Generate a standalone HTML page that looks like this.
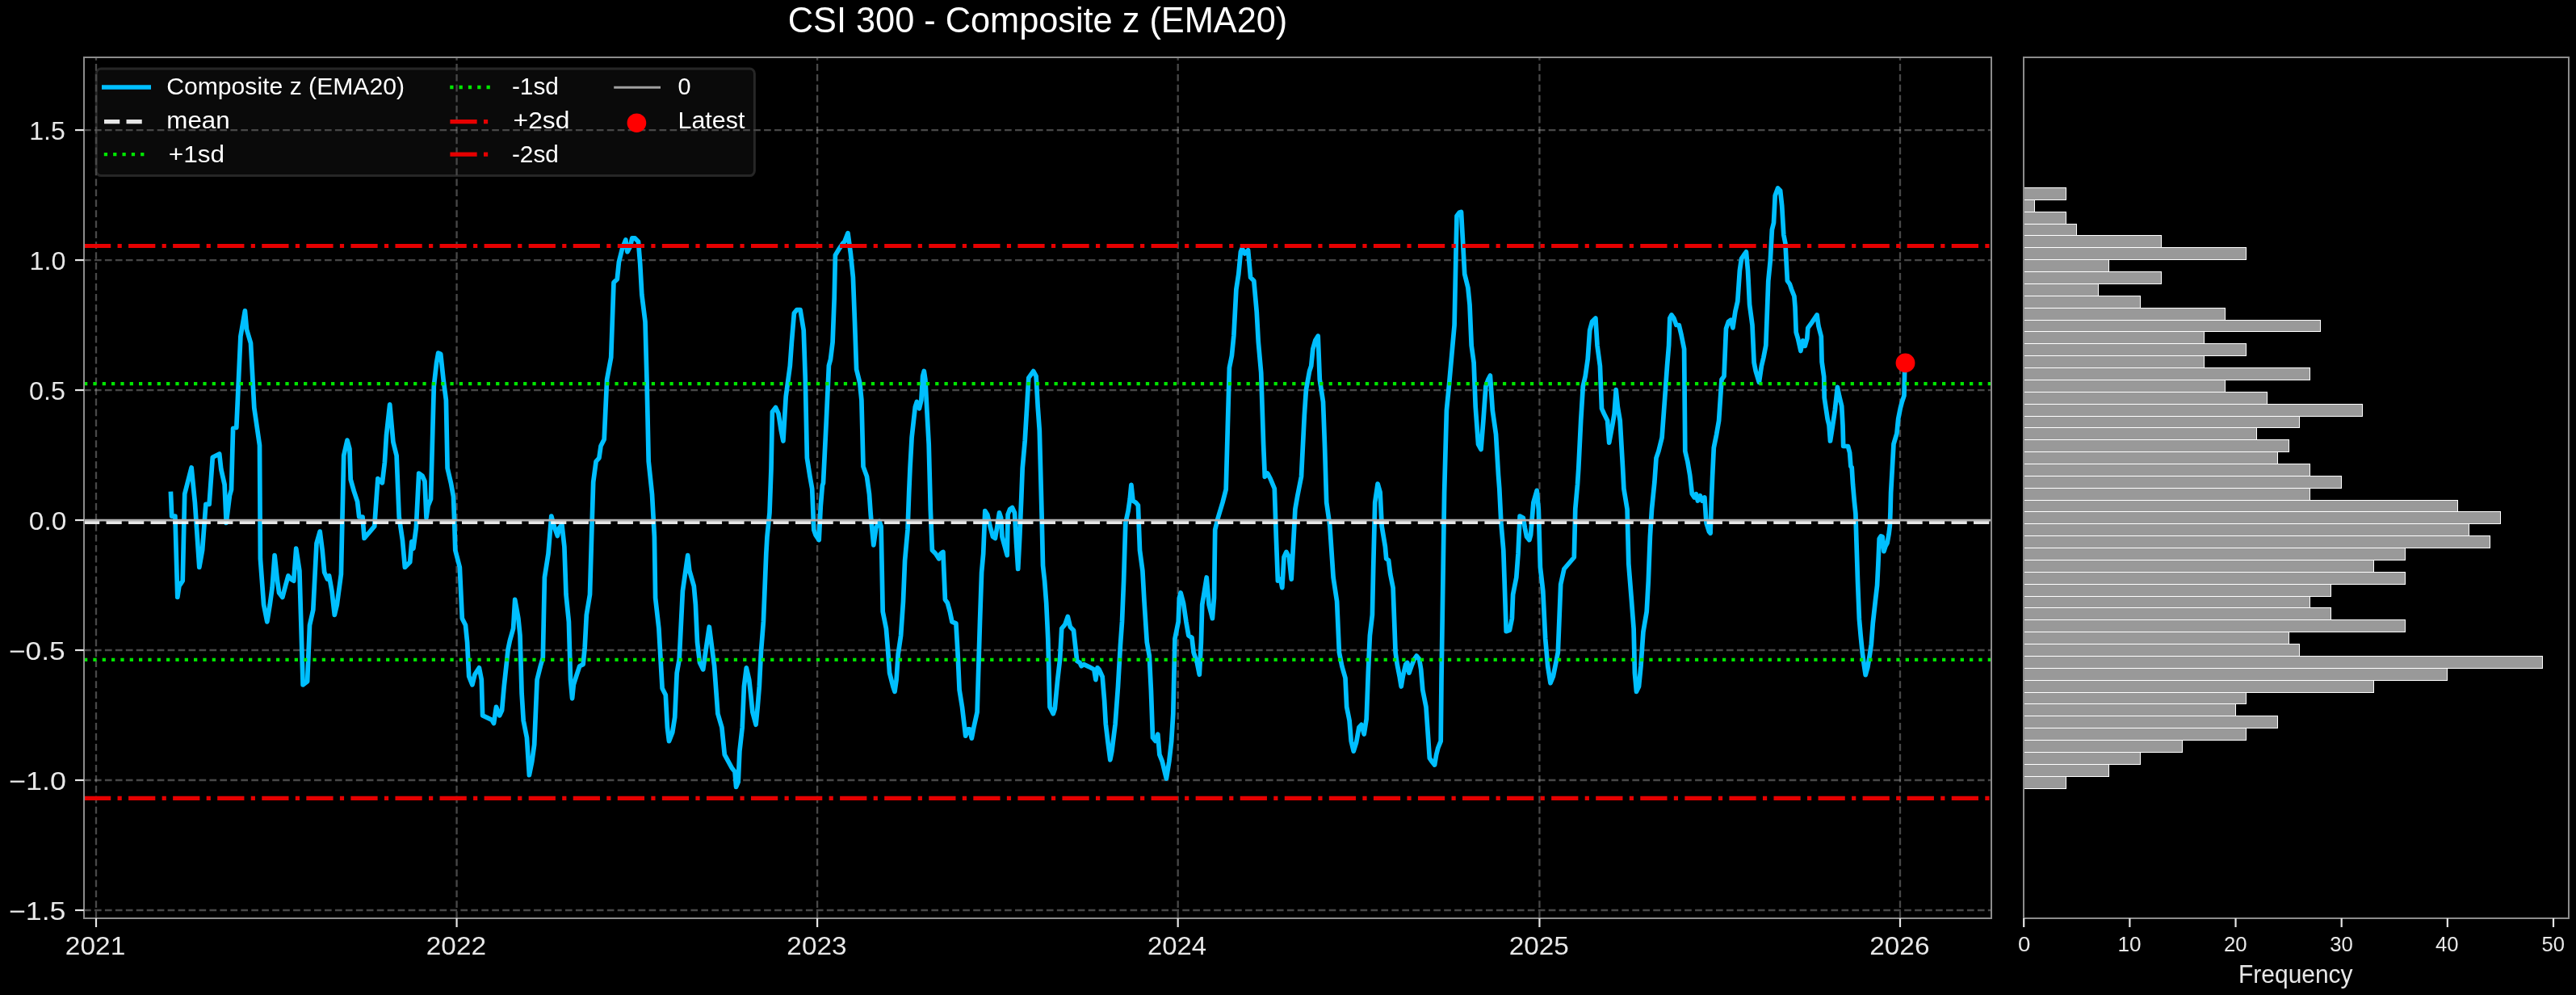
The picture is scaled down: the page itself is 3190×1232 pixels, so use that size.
<!DOCTYPE html><html><head><meta charset="utf-8"><style>html,body{margin:0;padding:0;background:#000;width:3190px;height:1232px;overflow:hidden}svg{display:block}text{font-family:"Liberation Sans",sans-serif}</style></head><body><svg style="will-change:transform" width="3190" height="1232" viewBox="0 0 3190 1232"><rect width="3190" height="1232" fill="#000"/><defs><clipPath id="cm"><rect x="104.0" y="71.0" width="2362.0" height="1066.0"/></clipPath></defs><g stroke="#b3b3b3" stroke-opacity="0.4" stroke-width="2.3" stroke-dasharray="8.7 4.255" fill="none"><line x1="119.00" y1="1137.0" x2="119.00" y2="71.0"/><line x1="565.56" y1="1137.0" x2="565.56" y2="71.0"/><line x1="1012.11" y1="1137.0" x2="1012.11" y2="71.0"/><line x1="1458.67" y1="1137.0" x2="1458.67" y2="71.0"/><line x1="1906.45" y1="1137.0" x2="1906.45" y2="71.0"/><line x1="2353.00" y1="1137.0" x2="2353.00" y2="71.0"/><line x1="104.0" y1="1127.00" x2="2466.0" y2="1127.00"/><line x1="104.0" y1="966.01" x2="2466.0" y2="966.01"/><line x1="104.0" y1="805.02" x2="2466.0" y2="805.02"/><line x1="104.0" y1="644.03" x2="2466.0" y2="644.03"/><line x1="104.0" y1="483.04" x2="2466.0" y2="483.04"/><line x1="104.0" y1="322.05" x2="2466.0" y2="322.05"/><line x1="104.0" y1="161.06" x2="2466.0" y2="161.06"/></g><g clip-path="url(#cm)"><path d="M211.4 608.7 L212.7 639.1 L216.9 639.1 L219.8 739.5 L221.9 725.6 L226.2 719.2 L228.7 611.6 L237.1 578.9 L241.4 622.2 L246.8 702.4 L250.6 681.3 L254.9 624.3 L259.1 624.3 L263.3 566.2 L271.7 562.0 L273.8 581.0 L278.1 600.0 L280.2 647.5 L284.4 613.8 L286.5 606.3 L288.6 530.3 L292.8 529.5 L297.9 416.4 L303.4 384.8 L305.5 408.0 L310.5 424.9 L314.8 505.0 L321.5 551.4 L322.4 691.8 L326.6 748.8 L330.8 769.9 L334.2 748.8 L337.1 727.7 L340.1 687.6 L343.5 719.2 L345.6 734.0 L349.8 739.5 L354.0 723.5 L357.0 712.9 L360.3 717.1 L363.7 719.2 L366.7 679.2 L370.9 706.6 L375.1 847.9 L380.6 843.7 L383.5 774.1 L387.8 755.1 L392.0 672.8 L396.2 658.1 L399.2 681.3 L401.7 708.7 L405.5 717.1 L407.6 712.9 L411.0 731.9 L414.3 761.4 L417.3 748.8 L422.4 710.8 L425.7 564.1 L430.0 545.1 L432.9 555.7 L434.2 593.6 L438.4 608.4 L442.6 621.1 L444.7 640.0 L449.0 640.0 L451.1 666.5 L463.7 651.7 L467.9 592.7 L473.4 597.8 L476.4 572.5 L478.5 538.8 L482.7 500.8 L486.9 547.2 L491.1 564.1 L494.2 640.0 L498.4 668.6 L501.4 702.4 L504.8 699.0 L507.7 696.0 L509.8 670.7 L511.9 679.2 L515.3 653.8 L518.7 586.0 L522.9 589.0 L526.0 596.0 L528.0 641.2 L530.1 626.4 L533.5 618.0 L537.3 478.5 L540.6 448.9 L542.7 437.1 L545.7 438.4 L549.1 470.0 L552.4 495.4 L554.1 579.7 L558.4 598.0 L561.5 615.0 L562.6 643.3 L563.8 681.3 L569.3 702.4 L572.3 765.7 L576.5 774.1 L578.6 795.2 L580.7 837.4 L584.9 847.9 L587.9 835.3 L593.4 826.8 L596.3 841.6 L597.6 885.9 L603.9 888.9 L609.0 891.4 L611.5 895.6 L614.5 875.4 L618.7 885.9 L621.6 879.6 L624.2 850.0 L629.2 803.6 L631.4 793.1 L635.6 778.3 L637.7 742.4 L641.9 765.7 L644.0 786.8 L646.1 858.5 L648.2 892.2 L652.4 913.3 L655.4 959.7 L658.8 942.9 L661.7 921.8 L665.1 841.6 L669.3 824.7 L672.3 814.2 L674.4 715.0 L679.0 685.5 L682.8 639.1 L686.2 651.7 L690.4 663.5 L692.5 653.8 L695.9 649.6 L698.9 677.0 L701.0 736.1 L704.4 769.9 L706.5 841.6 L708.6 864.8 L710.3 847.9 L713.6 837.4 L717.8 824.7 L722.1 822.6 L724.2 801.5 L726.3 761.4 L730.5 736.1 L732.6 664.4 L734.7 596.9 L738.1 571.3 L741.9 567.1 L744.0 552.3 L748.2 543.9 L751.6 470.0 L756.7 442.6 L760.0 349.8 L764.3 345.6 L766.4 324.5 L770.6 307.6 L774.8 297.0 L776.9 311.8 L780.3 305.5 L782.8 294.9 L786.3 294.9 L790.5 299.2 L792.7 326.6 L794.8 364.6 L799.0 398.3 L801.1 474.3 L803.2 571.3 L807.5 612.0 L810.4 664.4 L811.6 740.3 L815.9 778.3 L820.1 852.2 L824.3 860.6 L826.4 900.7 L828.5 917.6 L832.7 907.0 L835.7 888.0 L838.2 833.2 L841.2 816.3 L845.4 731.9 L849.6 702.4 L851.7 687.6 L853.8 706.6 L859.3 725.6 L861.4 748.8 L863.5 795.2 L866.5 820.5 L870.7 828.9 L874.9 799.4 L878.3 776.2 L881.3 799.4 L884.6 824.7 L888.9 883.8 L893.9 900.7 L897.3 934.4 L906.6 951.3 L910.0 955.5 L911.6 974.5 L914.2 968.2 L915.9 930.2 L919.2 900.7 L921.4 850.0 L924.3 826.8 L927.7 841.6 L929.8 860.6 L931.9 881.7 L936.1 897.3 L938.2 875.4 L940.3 850.0 L942.4 807.8 L945.4 769.9 L948.8 685.5 L950.0 664.4 L953.0 635.0 L955.0 580.0 L956.4 510.1 L960.6 504.6 L964.0 512.2 L967.3 533.3 L969.9 546.0 L973.2 491.1 L978.3 453.2 L980.4 423.6 L983.4 387.8 L986.8 383.5 L991.0 383.5 L995.2 408.9 L997.3 470.0 L999.4 567.1 L1003.0 590.0 L1005.7 605.3 L1007.8 656.0 L1010.0 662.3 L1014.2 668.6 L1016.3 626.4 L1018.4 601.1 L1019.5 598.0 L1023.3 521.0 L1026.4 452.8 L1028.5 445.0 L1031.1 423.6 L1033.2 368.8 L1034.4 316.0 L1039.5 307.6 L1043.7 301.3 L1045.8 299.2 L1050.0 288.6 L1053.4 313.9 L1056.4 343.5 L1058.5 398.3 L1060.6 457.4 L1064.8 474.3 L1066.9 495.4 L1069.0 577.6 L1073.5 590.0 L1076.5 612.0 L1078.4 639.1 L1081.8 674.9 L1084.8 653.8 L1086.9 649.6 L1089.0 645.4 L1091.1 651.7 L1093.2 757.2 L1097.4 778.3 L1099.5 803.6 L1101.6 833.2 L1105.9 850.0 L1108.0 856.4 L1110.1 841.6 L1112.2 810.0 L1115.6 786.8 L1118.5 744.6 L1120.6 693.9 L1124.0 655.9 L1125.7 609.5 L1127.0 579.7 L1129.1 541.8 L1133.3 503.8 L1135.4 497.5 L1138.4 505.9 L1140.9 495.4 L1142.6 465.8 L1144.3 459.5 L1145.9 470.0 L1148.1 512.2 L1150.2 550.2 L1151.5 600.0 L1152.3 630.6 L1154.4 681.3 L1158.6 685.5 L1162.8 691.8 L1164.9 685.5 L1167.9 683.4 L1170.4 742.4 L1173.4 746.7 L1176.3 757.2 L1178.9 769.9 L1183.9 772.0 L1186.0 807.8 L1188.1 854.3 L1191.5 875.4 L1195.7 911.2 L1198.7 902.8 L1200.8 902.8 L1203.3 914.2 L1205.9 900.7 L1210.1 881.7 L1213.5 769.9 L1215.6 708.7 L1217.7 685.5 L1219.8 632.7 L1222.7 637.0 L1226.1 651.7 L1229.5 664.4 L1232.4 666.5 L1234.6 653.8 L1237.5 634.9 L1239.6 641.2 L1240.9 664.4 L1243.8 674.9 L1247.2 687.6 L1248.1 637.0 L1250.6 630.6 L1253.5 628.5 L1256.5 634.9 L1258.6 672.8 L1260.7 704.5 L1262.8 664.4 L1264.9 613.8 L1266.2 579.7 L1269.2 546.0 L1271.7 503.8 L1273.8 467.9 L1276.8 463.7 L1279.7 459.5 L1283.1 465.8 L1285.2 503.8 L1287.3 533.3 L1288.8 590.0 L1290.0 634.9 L1291.5 700.3 L1293.6 719.2 L1295.7 746.7 L1297.8 791.0 L1300.0 875.4 L1302.1 879.6 L1304.2 883.8 L1306.3 877.5 L1309.7 841.6 L1312.6 816.3 L1314.7 778.3 L1318.9 773.2 L1322.3 763.5 L1325.3 776.2 L1329.5 780.4 L1331.6 799.4 L1333.7 818.4 L1337.1 820.5 L1339.2 824.7 L1342.2 822.6 L1348.5 825.6 L1354.8 828.9 L1356.9 841.6 L1359.0 826.8 L1361.1 828.9 L1365.2 838.0 L1367.6 866.9 L1369.3 896.5 L1371.8 917.6 L1374.8 940.8 L1376.9 930.2 L1381.1 896.5 L1384.5 850.0 L1387.4 799.4 L1389.5 769.9 L1391.6 719.2 L1393.8 647.5 L1397.1 632.7 L1399.2 618.0 L1400.9 600.3 L1403.0 620.1 L1406.4 622.2 L1409.4 625.6 L1411.5 681.3 L1414.9 706.6 L1417.0 744.6 L1420.3 795.2 L1423.3 812.1 L1425.4 854.3 L1427.5 913.3 L1430.9 917.6 L1433.8 909.1 L1435.9 934.4 L1439.3 942.9 L1442.3 955.5 L1444.4 964.0 L1447.8 942.9 L1450.7 917.6 L1452.8 883.8 L1454.9 791.0 L1459.2 769.9 L1460.4 740.3 L1462.1 734.0 L1465.5 746.7 L1468.9 769.9 L1471.8 786.8 L1476.0 789.7 L1478.1 807.8 L1482.4 820.5 L1485.3 835.3 L1487.4 795.2 L1488.7 748.8 L1490.8 736.1 L1494.2 715.0 L1497.1 748.8 L1501.4 765.7 L1503.5 740.3 L1504.7 655.9 L1507.7 643.3 L1514.0 622.2 L1518.2 606.0 L1520.3 529.1 L1522.4 455.3 L1525.4 440.5 L1527.9 415.2 L1530.9 358.2 L1533.8 339.2 L1536.4 311.8 L1538.1 307.6 L1541.4 313.9 L1545.6 309.7 L1548.6 343.5 L1552.8 347.7 L1556.2 385.7 L1558.3 423.6 L1561.7 461.6 L1564.6 550.2 L1566.3 590.3 L1569.7 586.1 L1573.1 592.5 L1578.3 605.0 L1580.3 664.4 L1582.4 719.2 L1585.7 717.1 L1587.8 727.7 L1590.0 689.7 L1592.9 683.4 L1596.3 689.7 L1599.2 717.1 L1601.4 677.0 L1603.9 630.6 L1606.8 613.8 L1611.5 590.0 L1615.3 514.3 L1617.4 482.7 L1621.6 459.5 L1623.7 453.2 L1625.8 432.1 L1628.8 421.5 L1632.2 416.0 L1634.3 470.0 L1638.5 497.5 L1640.6 554.4 L1642.0 600.0 L1642.7 622.2 L1646.9 651.7 L1651.1 715.0 L1655.6 744.6 L1658.4 807.8 L1661.8 824.7 L1666.0 839.5 L1667.7 875.4 L1671.1 892.2 L1673.2 917.6 L1676.2 930.2 L1679.5 919.7 L1682.9 900.7 L1685.9 897.3 L1689.2 909.1 L1692.2 890.1 L1694.3 833.2 L1696.4 786.8 L1699.4 761.4 L1700.6 706.6 L1702.7 622.2 L1706.1 599.0 L1709.1 609.5 L1711.2 651.7 L1715.4 677.0 L1716.7 691.8 L1719.6 693.9 L1721.7 710.8 L1725.1 727.7 L1728.1 807.8 L1730.2 822.6 L1733.1 837.4 L1735.2 850.0 L1737.3 837.4 L1740.7 822.6 L1742.8 820.5 L1744.9 833.2 L1747.9 824.7 L1751.3 816.3 L1754.2 812.1 L1757.6 816.3 L1759.7 828.9 L1761.8 854.3 L1766.0 875.4 L1770.3 938.6 L1773.2 942.9 L1776.6 947.1 L1778.7 934.4 L1780.8 926.0 L1784.2 917.6 L1785.0 841.6 L1787.1 706.6 L1788.6 610.0 L1791.4 508.0 L1794.3 478.5 L1797.7 440.5 L1801.1 402.5 L1802.7 326.6 L1804.0 267.5 L1807.0 263.3 L1809.5 262.4 L1811.2 292.8 L1813.7 339.2 L1817.9 356.1 L1820.0 377.2 L1822.2 427.8 L1825.1 448.9 L1827.2 503.8 L1830.6 550.2 L1834.0 556.5 L1836.9 520.7 L1839.9 478.5 L1842.8 470.0 L1845.4 465.0 L1848.3 508.0 L1852.5 537.6 L1855.5 588.2 L1856.8 605.3 L1858.9 647.5 L1861.8 681.3 L1865.2 781.7 L1869.4 780.4 L1872.4 765.7 L1873.6 736.1 L1877.8 715.0 L1880.0 685.5 L1882.1 639.1 L1886.3 641.2 L1888.4 653.8 L1890.5 664.4 L1893.9 668.6 L1895.6 662.3 L1898.9 622.2 L1903.2 607.3 L1905.3 630.6 L1907.4 702.4 L1910.8 731.9 L1913.7 791.0 L1916.7 824.7 L1920.0 845.8 L1923.4 837.4 L1926.4 822.6 L1929.3 807.8 L1932.7 723.5 L1936.9 704.5 L1949.3 690.0 L1950.8 630.0 L1953.5 600.0 L1954.8 579.7 L1957.7 520.7 L1960.3 478.5 L1963.2 465.8 L1966.2 444.7 L1968.7 408.9 L1971.6 398.3 L1975.9 394.1 L1978.0 427.8 L1981.4 453.2 L1983.5 505.9 L1986.4 512.2 L1990.6 520.7 L1992.7 548.1 L1997.0 524.9 L1999.1 512.2 L2001.2 482.7 L2003.3 503.8 L2006.2 520.7 L2009.6 579.7 L2010.9 605.3 L2015.1 630.6 L2016.8 698.1 L2020.2 740.3 L2023.1 778.3 L2024.4 833.2 L2026.5 856.4 L2029.5 850.0 L2032.0 824.7 L2034.9 782.5 L2039.2 757.2 L2041.3 719.2 L2043.4 664.4 L2045.5 630.6 L2048.9 596.9 L2051.0 567.1 L2053.9 558.6 L2058.1 541.8 L2061.5 495.4 L2064.5 453.2 L2066.6 427.8 L2067.8 394.1 L2069.9 389.9 L2072.9 394.1 L2075.9 402.5 L2079.2 402.5 L2082.2 415.2 L2085.6 432.1 L2086.8 558.6 L2089.8 571.3 L2092.7 588.2 L2095.3 611.4 L2098.2 615.9 L2100.3 611.6 L2102.4 620.1 L2105.4 613.8 L2107.9 620.1 L2110.9 615.9 L2113.0 647.5 L2116.4 658.1 L2118.1 660.2 L2119.3 622.2 L2120.6 590.0 L2122.3 554.4 L2125.7 537.6 L2128.6 520.7 L2132.0 470.0 L2135.0 465.8 L2137.5 406.8 L2140.4 398.3 L2143.4 396.2 L2145.9 405.9 L2148.9 385.7 L2151.8 373.0 L2154.4 335.0 L2156.5 320.3 L2159.4 316.0 L2162.4 311.8 L2164.5 335.0 L2166.6 377.2 L2170.0 402.5 L2172.1 448.9 L2174.2 459.5 L2178.4 473.4 L2181.4 453.2 L2183.9 442.6 L2186.8 427.8 L2189.8 347.7 L2192.3 322.4 L2194.4 284.4 L2196.5 275.9 L2198.2 242.2 L2201.6 232.9 L2204.6 235.9 L2206.7 254.9 L2208.8 290.7 L2210.9 301.3 L2213.4 347.7 L2216.4 351.9 L2218.5 358.2 L2221.9 366.7 L2223.0 380.0 L2224.2 411.4 L2226.5 419.2 L2229.9 434.5 L2232.5 421.8 L2235.2 428.4 L2237.8 419.2 L2238.8 406.1 L2243.5 399.6 L2250.1 389.9 L2251.9 403.5 L2255.3 416.6 L2256.1 448.0 L2258.7 466.3 L2259.2 492.4 L2263.1 518.6 L2265.0 526.4 L2266.5 546.0 L2269.2 529.0 L2272.3 508.1 L2275.4 479.3 L2277.5 489.8 L2280.7 502.9 L2282.0 526.4 L2282.7 552.5 L2288.5 552.5 L2290.6 560.4 L2291.9 577.4 L2293.2 578.7 L2294.5 599.6 L2296.3 620.5 L2297.9 636.0 L2299.0 672.3 L2300.5 719.3 L2302.4 766.4 L2304.2 787.3 L2306.3 808.2 L2308.4 823.9 L2310.2 835.7 L2312.8 826.5 L2315.4 810.8 L2317.3 797.8 L2319.3 771.6 L2322.5 742.9 L2324.6 724.6 L2325.9 698.4 L2327.2 667.1 L2329.3 663.9 L2331.1 664.4 L2332.9 682.7 L2335.0 676.2 L2337.1 672.3 L2339.0 661.8 L2340.3 651.4 L2341.0 633.1 L2341.6 610.1 L2343.4 578.7 L2345.0 549.9 L2347.3 542.1 L2348.9 536.9 L2349.9 526.4 L2350.7 518.6 L2353.3 505.5 L2355.4 497.6 L2358.0 489.8 L2358.6 461.0 L2359.3 449.3" fill="none" stroke="#00bfff" stroke-width="5.7" stroke-linejoin="round" stroke-linecap="butt"/><line x1="104.0" y1="646.4" x2="2466.0" y2="646.4" stroke="#ffffff" stroke-opacity="0.9" stroke-width="5.195" stroke-dasharray="19.22 8.31"/><line x1="104.0" y1="475.1" x2="2466.0" y2="475.1" stroke="#00e600" stroke-width="4.277" stroke-dasharray="4.277 7.058"/><line x1="104.0" y1="816.9" x2="2466.0" y2="816.9" stroke="#00e600" stroke-width="4.277" stroke-dasharray="4.277 7.058"/><line x1="104.0" y1="304.5" x2="2466.0" y2="304.5" stroke="#e60000" stroke-width="5.195" stroke-dasharray="33.25 8.31 5.195 8.31"/><line x1="104.0" y1="988.4" x2="2466.0" y2="988.4" stroke="#e60000" stroke-width="5.195" stroke-dasharray="33.25 8.31 5.195 8.31"/><line x1="104.0" y1="644.1" x2="2466.0" y2="644.1" stroke="#b0b0b0" stroke-width="2.8"/><circle cx="2359.5" cy="449.4" r="11.9" fill="#ff0000"/></g><rect x="104.0" y="71.0" width="2362.0" height="1066.0" fill="none" stroke="#8c8c8c" stroke-width="2.0"/><g stroke="#e6e6e6" stroke-width="2.2"><line x1="93.0" y1="1127.00" x2="104.0" y2="1127.00"/><line x1="93.0" y1="966.01" x2="104.0" y2="966.01"/><line x1="93.0" y1="805.02" x2="104.0" y2="805.02"/><line x1="93.0" y1="644.03" x2="104.0" y2="644.03"/><line x1="93.0" y1="483.04" x2="104.0" y2="483.04"/><line x1="93.0" y1="322.05" x2="104.0" y2="322.05"/><line x1="93.0" y1="161.06" x2="104.0" y2="161.06"/><line x1="119.00" y1="1137.0" x2="119.00" y2="1148.0"/><line x1="565.56" y1="1137.0" x2="565.56" y2="1148.0"/><line x1="1012.11" y1="1137.0" x2="1012.11" y2="1148.0"/><line x1="1458.67" y1="1137.0" x2="1458.67" y2="1148.0"/><line x1="1906.45" y1="1137.0" x2="1906.45" y2="1148.0"/><line x1="2353.00" y1="1137.0" x2="2353.00" y2="1148.0"/></g><rect x="119.2" y="85.0" width="815.1999999999999" height="132.6" rx="6" ry="6" fill="#474747" fill-opacity="0.14" stroke="#474747" stroke-opacity="0.5" stroke-width="3"/><line x1="126.0" y1="108.0" x2="187.0" y2="108.0" stroke="#00bfff" stroke-width="5.7"/><line x1="129.0" y1="150.6" x2="183.4" y2="150.6" stroke="#e6e6e6" stroke-width="5.195" stroke-dasharray="19.22 8.31"/><line x1="128.8" y1="191.2" x2="184.4" y2="191.2" stroke="#00e600" stroke-width="4.277" stroke-dasharray="4.277 7.058"/><line x1="557.2" y1="108.0" x2="612.8" y2="108.0" stroke="#00e600" stroke-width="4.277" stroke-dasharray="4.277 7.058"/><line x1="557.4" y1="150.6" x2="612.2" y2="150.6" stroke="#e60000" stroke-width="5.195" stroke-dasharray="33.25 8.31 5.195 8.31"/><line x1="557.4" y1="191.2" x2="612.2" y2="191.2" stroke="#e60000" stroke-width="5.195" stroke-dasharray="33.25 8.31 5.195 8.31"/><line x1="760.2" y1="108.3" x2="818.0" y2="108.3" stroke="#a0a0a0" stroke-width="2.9"/><circle cx="788.4" cy="152.2" r="11.8" fill="#ff0000"/><g fill="#999999" stroke="#ffffff" stroke-width="1.0"><rect x="2506.5" y="232.5" width="52.0" height="15.0"/><rect x="2506.5" y="247.5" width="13.0" height="15.0"/><rect x="2506.5" y="262.5" width="52.0" height="15.0"/><rect x="2506.5" y="277.5" width="65.0" height="14.0"/><rect x="2506.5" y="291.5" width="170.0" height="15.0"/><rect x="2506.5" y="306.5" width="275.0" height="15.0"/><rect x="2506.5" y="321.5" width="105.0" height="15.0"/><rect x="2506.5" y="336.5" width="170.0" height="15.0"/><rect x="2506.5" y="351.5" width="92.0" height="15.0"/><rect x="2506.5" y="366.5" width="144.0" height="15.0"/><rect x="2506.5" y="381.5" width="249.0" height="15.0"/><rect x="2506.5" y="396.5" width="367.0" height="14.0"/><rect x="2506.5" y="410.5" width="223.0" height="15.0"/><rect x="2506.5" y="425.5" width="275.0" height="15.0"/><rect x="2506.5" y="440.5" width="223.0" height="15.0"/><rect x="2506.5" y="455.5" width="354.0" height="15.0"/><rect x="2506.5" y="470.5" width="249.0" height="15.0"/><rect x="2506.5" y="485.5" width="301.0" height="15.0"/><rect x="2506.5" y="500.5" width="419.0" height="15.0"/><rect x="2506.5" y="515.5" width="341.0" height="14.0"/><rect x="2506.5" y="529.5" width="288.0" height="15.0"/><rect x="2506.5" y="544.5" width="328.0" height="15.0"/><rect x="2506.5" y="559.5" width="314.0" height="15.0"/><rect x="2506.5" y="574.5" width="354.0" height="15.0"/><rect x="2506.5" y="589.5" width="393.0" height="15.0"/><rect x="2506.5" y="604.5" width="354.0" height="15.0"/><rect x="2506.5" y="619.5" width="537.0" height="14.0"/><rect x="2506.5" y="633.5" width="590.0" height="15.0"/><rect x="2506.5" y="648.5" width="551.0" height="15.0"/><rect x="2506.5" y="663.5" width="577.0" height="15.0"/><rect x="2506.5" y="678.5" width="472.0" height="15.0"/><rect x="2506.5" y="693.5" width="433.0" height="15.0"/><rect x="2506.5" y="708.5" width="472.0" height="15.0"/><rect x="2506.5" y="723.5" width="380.0" height="15.0"/><rect x="2506.5" y="738.5" width="354.0" height="14.0"/><rect x="2506.5" y="752.5" width="380.0" height="15.0"/><rect x="2506.5" y="767.5" width="472.0" height="15.0"/><rect x="2506.5" y="782.5" width="328.0" height="15.0"/><rect x="2506.5" y="797.5" width="341.0" height="15.0"/><rect x="2506.5" y="812.5" width="642.0" height="15.0"/><rect x="2506.5" y="827.5" width="524.0" height="15.0"/><rect x="2506.5" y="842.5" width="433.0" height="15.0"/><rect x="2506.5" y="857.5" width="275.0" height="14.0"/><rect x="2506.5" y="871.5" width="262.0" height="15.0"/><rect x="2506.5" y="886.5" width="314.0" height="15.0"/><rect x="2506.5" y="901.5" width="275.0" height="15.0"/><rect x="2506.5" y="916.5" width="196.0" height="15.0"/><rect x="2506.5" y="931.5" width="144.0" height="15.0"/><rect x="2506.5" y="946.5" width="105.0" height="15.0"/><rect x="2506.5" y="961.5" width="52.0" height="15.0"/></g><rect x="2506.0" y="71.0" width="675.0" height="1066.0" fill="none" stroke="#8c8c8c" stroke-width="2.0"/><g stroke="#e6e6e6" stroke-width="2.2"><line x1="2506.20" y1="1137.0" x2="2506.20" y2="1148.0"/><line x1="2637.36" y1="1137.0" x2="2637.36" y2="1148.0"/><line x1="2768.52" y1="1137.0" x2="2768.52" y2="1148.0"/><line x1="2899.68" y1="1137.0" x2="2899.68" y2="1148.0"/><line x1="3030.84" y1="1137.0" x2="3030.84" y2="1148.0"/><line x1="3162.00" y1="1137.0" x2="3162.00" y2="1148.0"/></g><g><text x="975.74" y="40.00" font-size="44.2" fill="#ffffff" textLength="618.54" lengthAdjust="spacingAndGlyphs">CSI 300 - Composite z (EMA20)</text><text x="206.20" y="116.90" font-size="30.0" fill="#ffffff" textLength="294.85" lengthAdjust="spacingAndGlyphs">Composite z (EMA20)</text><text x="206.31" y="158.70" font-size="30.0" fill="#ffffff" textLength="78.43" lengthAdjust="spacingAndGlyphs">mean</text><text x="208.85" y="200.80" font-size="30.0" fill="#ffffff" textLength="69.34" lengthAdjust="spacingAndGlyphs">+1sd</text><text x="633.91" y="116.90" font-size="30.0" fill="#ffffff" textLength="57.94" lengthAdjust="spacingAndGlyphs">-1sd</text><text x="635.64" y="158.90" font-size="30.0" fill="#ffffff" textLength="69.76" lengthAdjust="spacingAndGlyphs">+2sd</text><text x="633.91" y="200.80" font-size="30.0" fill="#ffffff" textLength="57.94" lengthAdjust="spacingAndGlyphs">-2sd</text><text x="839.54" y="116.70" font-size="30.0" fill="#ffffff" textLength="16.02" lengthAdjust="spacingAndGlyphs">0</text><text x="839.58" y="158.80" font-size="30.0" fill="#ffffff" textLength="82.76" lengthAdjust="spacingAndGlyphs">Latest</text><text x="36.17" y="172.86" font-size="31.6" fill="#e8e8e8" textLength="44.67" lengthAdjust="spacingAndGlyphs">1.5</text><text x="36.46" y="333.85" font-size="31.6" fill="#e8e8e8" textLength="44.89" lengthAdjust="spacingAndGlyphs">1.0</text><text x="35.98" y="494.84" font-size="31.6" fill="#e8e8e8" textLength="44.86" lengthAdjust="spacingAndGlyphs">0.5</text><text x="35.84" y="655.83" font-size="31.6" fill="#e8e8e8" textLength="46.54" lengthAdjust="spacingAndGlyphs">0.0</text><text x="10.98" y="816.82" font-size="31.6" fill="#e8e8e8" textLength="69.76" lengthAdjust="spacingAndGlyphs">−0.5</text><text x="10.96" y="977.81" font-size="31.6" fill="#e8e8e8" textLength="71.00" lengthAdjust="spacingAndGlyphs">−1.0</text><text x="10.97" y="1138.80" font-size="31.6" fill="#e8e8e8" textLength="70.48" lengthAdjust="spacingAndGlyphs">−1.5</text><text x="80.79" y="1182.00" font-size="31.6" fill="#e8e8e8" textLength="74.48" lengthAdjust="spacingAndGlyphs">2021</text><text x="527.80" y="1182.00" font-size="31.6" fill="#e8e8e8" textLength="74.23" lengthAdjust="spacingAndGlyphs">2022</text><text x="974.36" y="1182.00" font-size="31.6" fill="#e8e8e8" textLength="74.23" lengthAdjust="spacingAndGlyphs">2023</text><text x="1420.93" y="1182.00" font-size="31.6" fill="#e8e8e8" textLength="73.15" lengthAdjust="spacingAndGlyphs">2024</text><text x="1868.69" y="1182.00" font-size="31.6" fill="#e8e8e8" textLength="74.23" lengthAdjust="spacingAndGlyphs">2025</text><text x="2315.25" y="1182.00" font-size="31.6" fill="#e8e8e8" textLength="74.23" lengthAdjust="spacingAndGlyphs">2026</text><text x="2499.12" y="1177.80" font-size="25.7" fill="#e8e8e8" textLength="15.37" lengthAdjust="spacingAndGlyphs">0</text><text x="2622.47" y="1177.80" font-size="25.7" fill="#e8e8e8" textLength="29.02" lengthAdjust="spacingAndGlyphs">10</text><text x="2754.02" y="1177.80" font-size="25.7" fill="#e8e8e8" textLength="28.58" lengthAdjust="spacingAndGlyphs">20</text><text x="2885.18" y="1177.80" font-size="25.7" fill="#e8e8e8" textLength="28.58" lengthAdjust="spacingAndGlyphs">30</text><text x="3015.90" y="1177.80" font-size="25.7" fill="#e8e8e8" textLength="28.48" lengthAdjust="spacingAndGlyphs">40</text><text x="3147.60" y="1177.80" font-size="25.7" fill="#e8e8e8" textLength="28.47" lengthAdjust="spacingAndGlyphs">50</text><text x="2772.07" y="1217.30" font-size="31.0" fill="#e8e8e8" textLength="141.48" lengthAdjust="spacingAndGlyphs">Frequency</text></g></svg></body></html>
